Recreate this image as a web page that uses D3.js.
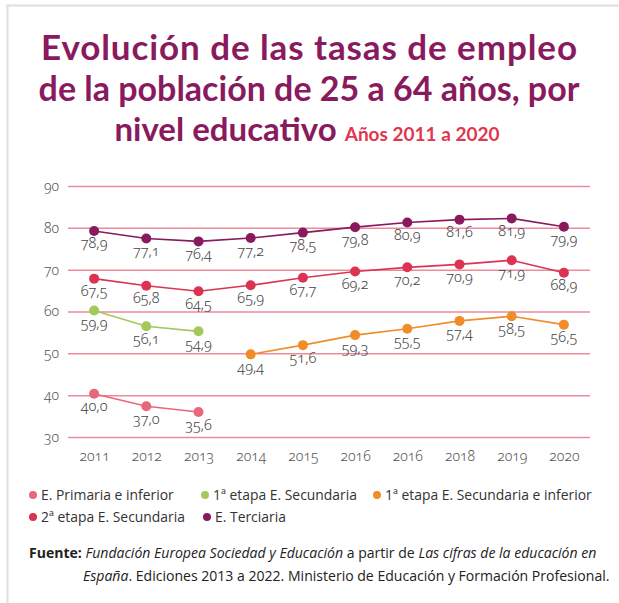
<!DOCTYPE html>
<html><head><meta charset="utf-8">
<script src="https://cdn.jsdelivr.net/npm/d3@7"></script>
<style>
body{margin:0;background:#fff}
svg{display:block}
.num{font-family:"Noto Sans",sans-serif;font-variant-numeric:oldstyle-nums;font-feature-settings:"onum" 1}
</style></head><body>
<svg id="c" width="619" height="603"></svg>
<script>
// ---- data ----
const years = ["2011","2012","2013","2014","2015","2016","2016","2018","2019","2020"];
const yTicks = [30,40,50,60,70,80,90];
const seriesNames = ["E. Primaria e inferior","1ª etapa E. Secundaria","1ª etapa E. Secundaria e inferior","2ª etapa E. Secundaria","E. Terciaria"];
const seriesColors = ["#e9677a","#a5c85a","#f08c2a","#dc3352","#8a1a5e"];
const primaria   = [40.0,37.0,35.6,null,null,null,null,null,null,null];
const secundaria1 = [59.9,56.1,54.9,null,null,null,null,null,null,null];
const secundaria1Inf = [null,null,null,49.4,51.6,54.0,55.5,57.4,58.5,56.5];
const secundaria1InfLabels = [null,null,null,"49,4","51,6","59,3","55,5","57,4","58,5","56,5"];
const secundaria2 = [67.5,65.8,64.5,65.9,67.7,69.2,70.2,70.9,71.9,68.9];
const terciaria  = [78.9,77.1,76.4,77.2,78.5,79.8,80.9,81.6,81.9,79.9];

const fmt = v => d3.format(".1f")(v).replace(".", ",");
const series = [
  {values: primaria},
  {values: secundaria1},
  {values: secundaria1Inf, labels: secundaria1InfLabels},
  {values: secundaria2},
  {values: terciaria}
].map((s,i)=>({...s, name: seriesNames[i], color: seriesColors[i]}));

const svg = d3.select("#c");

// frame
svg.append("path").attr("d","M7.5,603 V5.5 H619").attr("fill","none").attr("stroke","#dedede").attr("stroke-width",2);

// title
const tFont = '"Lato", sans-serif';
const title = svg.append("g").attr("fill","#8a1a5e").attr("font-family",tFont).attr("font-weight",700).attr("text-anchor","middle");
title.append("text").attr("x",309).attr("y",60).attr("font-size",35).attr("textLength",536).attr("lengthAdjust","spacing").text("Evolución de las tasas de empleo");
title.append("text").attr("x",309).attr("y",101).attr("font-size",34).text("de la población de 25 a 64 años, por");
const t3 = title.append("text").attr("x",307).attr("y",141).attr("font-size",33);
t3.append("tspan").text("nivel educativo ");
t3.append("tspan").attr("font-size",19).attr("fill","#e0364f").text("Años 2011 a 2020");

// scales
const x = d3.scalePoint().domain(d3.range(years.length)).range([68,590]).padding(0.5);
const y = d3.scaleLinear().domain([30,90]).range([437,186]);

// grid
const yAxis = d3.axisLeft(y).tickValues(yTicks).tickSize(-(590-68)).tickPadding(9).tickFormat(d=>d);
const gy = svg.append("g").attr("transform","translate(68,0)").call(yAxis);
gy.select(".domain").remove();
gy.selectAll(".tick line").attr("stroke","#ef8a9b").attr("stroke-width",1.5);
gy.selectAll(".tick text").attr("class","num").attr("fill","#555").attr("font-size",14).attr("font-weight",300);

const xAxis = d3.axisBottom(x).tickFormat(i=>years[i]).tickSize(0).tickPadding(14);
const gx = svg.append("g").attr("transform","translate(0,437)").call(xAxis);
gx.select(".domain").remove();
gx.selectAll(".tick text").attr("class","num").attr("fill","#555").attr("font-size",14).attr("font-weight",300);

// lines, dots, labels
const line = d3.line().defined(d=>d.v!=null).x(d=>x(d.i)).y(d=>y(d.v)-1.5);
series.forEach(s=>{
  const pts = s.values.map((v,i)=>({v,i,label: s.labels ? s.labels[i] : (v==null?null:fmt(v))}));
  svg.append("path").datum(pts).attr("d",line).attr("fill","none").attr("stroke",s.color).attr("stroke-width",1.6);
  const p = pts.filter(d=>d.v!=null);
  svg.append("g").selectAll("circle").data(p).join("circle")
    .attr("cx",d=>x(d.i)).attr("cy",d=>y(d.v)-1.5).attr("r",5).attr("fill",s.color);
  svg.append("g").selectAll("text").data(p).join("text").attr("class","num")
    .attr("x",d=>x(d.i)).attr("y",d=>y(d.v)+16).attr("text-anchor","middle")
    .attr("font-size",14.5).attr("fill","#444").attr("font-weight",300).text(d=>d.label);
});

// legend
const lFont = '"Open Sans", sans-serif';
const legendPos = [[33,495],[205,495],[377,495],[33,517],[207,517]];
const lg = svg.append("g").attr("font-family",lFont).attr("font-size",13.9).attr("fill","#333");
series.forEach((s,i)=>{
  const [lx,ly] = legendPos[i];
  lg.append("circle").attr("cx",lx).attr("cy",ly).attr("r",4).attr("fill",s.color);
  lg.append("text").attr("x",lx+8).attr("y",ly+5).text(s.name);
});

// source
const src = svg.append("g").attr("font-family",lFont).attr("font-size",14.05).attr("fill","#222");
const s1 = src.append("text").attr("x",29).attr("y",558);
s1.append("tspan").attr("font-weight",700).text("Fuente: ");
s1.append("tspan").attr("font-style","italic").text("Fundación Europea Sociedad y Educación");
s1.append("tspan").text(" a partir de ");
s1.append("tspan").attr("font-style","italic").text("Las cifras de la educación en");
const s2 = src.append("text").attr("x",83).attr("y",581);
s2.append("tspan").attr("font-style","italic").text("España");
s2.append("tspan").text(". Ediciones 2013 a 2022. Ministerio de Educación y Formación Profesional.");
</script>
</body></html>
